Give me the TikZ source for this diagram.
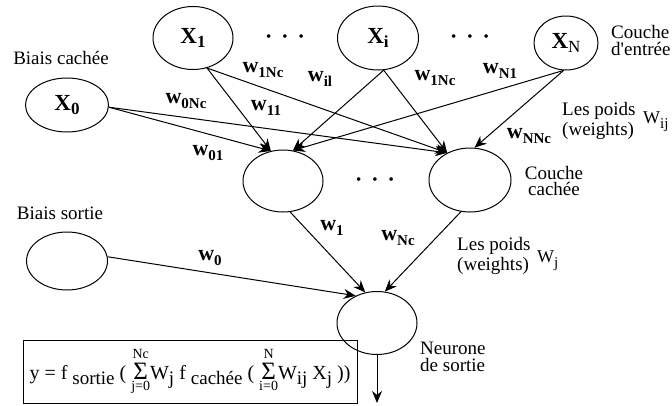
\documentclass[tikz,border=0pt]{standalone}
\usepackage{fontspec}
\setmainfont{Liberation Serif}
\usetikzlibrary{arrows.meta,shapes.geometric}

% subscript lowered below the baseline
\newcommand\lsub[2][15]{\raisebox{-5pt}{\fontsize{#1}{#1}\selectfont #2}}
% bold weight label  w_{...}
\newcommand\wlab[1]{{\fontsize{22}{22}\selectfont\bfseries w\raisebox{-5pt}{\fontsize{15}{15}\selectfont #1}}}
% bold neuron name  X_{...}
\newcommand\xlab[1]{{\fontsize{23}{23}\selectfont\bfseries X\raisebox{-4pt}{\fontsize{17}{17}\selectfont #1}}}
% summation with limits above and below
\newcommand\sumop[2]{$\mathop{\hbox{\fontsize{25}{25}\selectfont Σ}}\limits^{\raisebox{2pt}{\fontsize{14}{14}\selectfont #1}}_{\hbox{\fontsize{14}{14}\selectfont #2}}$}

\begin{document}
\begin{tikzpicture}[x=1pt,y=-1pt,
  neuron/.style={draw, ellipse, line width=1pt, inner sep=0pt},
  link/.style={line width=1pt, -{Stealth[length=12pt,width=10pt]}},
  lbl/.style={font=\fontsize{19}{19}\selectfont, inner sep=0pt},
  wt/.style={inner sep=0pt},
  dots/.style={inner sep=0pt, font=\fontsize{15}{15}\selectfont}]
\useasboundingbox (0,0) rectangle (672,405);

% input layer
\node[neuron, minimum width=80pt, minimum height=63pt] (x1) at (193,38) {\xlab{1}};
\node[neuron, minimum width=81pt, minimum height=64pt] (xi) at (378,38) {\xlab{i}};
\node[neuron, minimum width=64pt, minimum height=54pt] (xn) at (566,43) {\xlab{\mdseries N}};
\node[neuron, minimum width=83pt, minimum height=54pt] (x0) at (67,105) {\xlab{0}};
\node[dots] (d1) at (285,38) {•\hspace{11pt}•\hspace{11pt}•};
\node[dots] (d2) at (470,38) {•\hspace{11pt}•\hspace{11pt}•};

% hidden layer
\node[neuron, minimum width=80pt, minimum height=62pt] (h1) at (283,181) {};
\node[neuron, minimum width=82pt, minimum height=64pt] (h2) at (470,180) {};
\node[dots] (d3) at (375,181) {•\hspace{11pt}•\hspace{11pt}•};

% output bias and output neuron
\node[neuron, minimum width=81pt, minimum height=58pt] (bs) at (67,261) {};
\node[neuron, minimum width=80pt, minimum height=63pt] (out) at (377,323) {};
\coordinate (y) at (377,403);

% connections input -> hidden
\draw[link] (x0.-3) -- (h1.112);
\draw[link] (x0.-3) -- (h2.130);
\draw[link] (x1.-65) -- (h1.112);
\draw[link] (x1.-65) -- (h2.130);
\draw[link] (xi.-80) -- (h1.72);
\draw[link] (xi.-80) -- (h2.130);
\draw[link] (xn.-95) -- (h1.72);
\draw[link] (xn.-95) -- (h2.82);

% connections hidden -> output
\draw[link] (h1.-77) -- (out.111);
\draw[link] (h2.-106) -- (out.76);
\draw[link] (bs.6) -- (out.128);
\draw[link] (out.south) -- (y);

% weight labels
\node[wt] (w1nca) at (263,70) {\wlab{1Nc}};
\node[wt] (wil) at (320,79) {\wlab{il}};
\node[wt] (w0nc) at (186,101) {\wlab{0Nc}};
\node[wt] (w11) at (266,108) {\wlab{11}};
\node[wt] (w01) at (208,153) {\wlab{01}};
\node[wt] (w1ncb) at (435,78) {\wlab{1Nc}};
\node[wt] (wn1) at (500,71) {\wlab{N1}};
\node[wt] (wnnc) at (529,136) {\wlab{NNc}};
\node[wt] (w1) at (332,228) {\wlab{1}};
\node[wt] (wnc) at (398,238) {\wlab{Nc}};
\node[wt] (w0) at (210,258) {\wlab{0}};

% layer captions
\node[lbl] (bc) at (61,58) {Biais cachée};
\node[lbl] (bso) at (60,213) {Biais sortie};
\node[lbl, anchor=west, align=left, font=\fontsize{19}{17}\selectfont] (ce) at (611,40) {Couche\\d\textquotesingle entrée};
\node[lbl, anchor=west, align=left, font=\fontsize{19}{20}\selectfont] (lp1) at (562,121) {Les poids\\(weights)};
\node[lbl, anchor=west] (wij) at (643,122) {{\fontsize{18}{18}\selectfont W}\lsub{ij}};
\node[lbl, align=center, font=\fontsize{19}{16}\selectfont] (cc) at (554,181) {Couche\\cachée};
\node[lbl, anchor=west, align=left, font=\fontsize{19}{20}\selectfont] (lp2) at (457,256) {Les poids\\(weights)};
\node[lbl, anchor=west] (wj) at (537,261) {{\fontsize{18}{18}\selectfont W}\lsub{j}};
\node[lbl, anchor=west, align=left, font=\fontsize{19}{17}\selectfont] (ns) at (420,357) {Neurone\\de sortie};

% output formula
\node[draw, line width=1pt, minimum width=334pt, minimum height=63pt, inner sep=0pt,
      font=\fontsize{20}{20}\selectfont] (eq) at (190,371.5)
  {y = f \lsub[19]{sortie} ( \sumop{Nc}{j=0}W\lsub[19]{j} f \lsub[19]{cachée} ( \sumop{N}{i=0}W\lsub[19]{ij} X\lsub[19]{j} ))};
\end{tikzpicture}
\end{document}
